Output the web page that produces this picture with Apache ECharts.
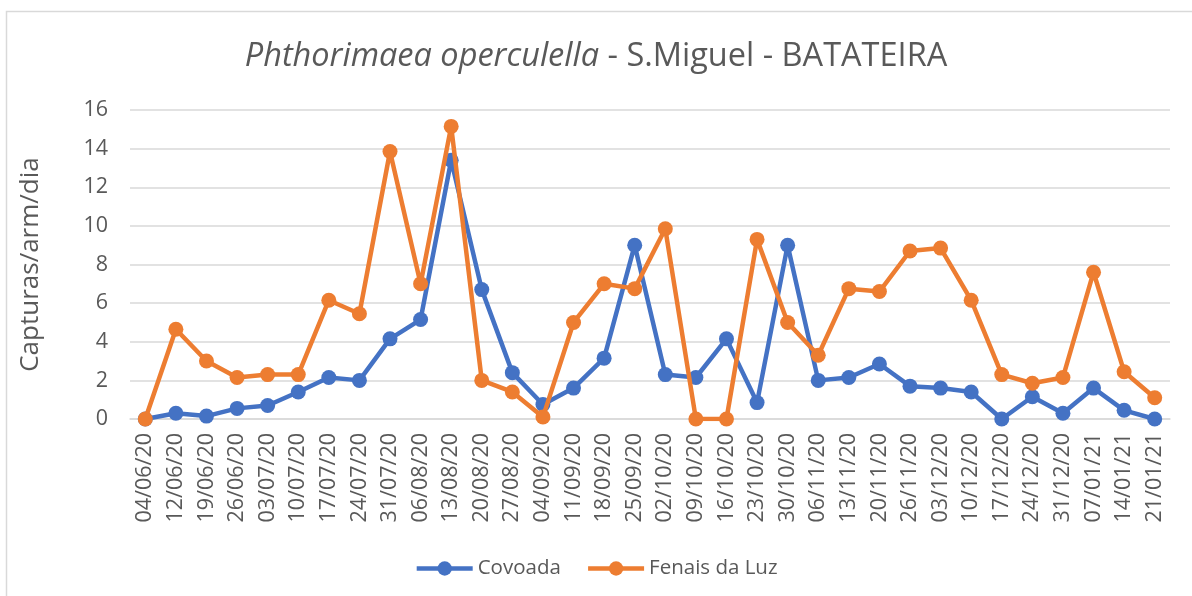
<!DOCTYPE html>
<html>
<head>
<meta charset="utf-8">
<script src="https://cdn.jsdelivr.net/npm/echarts@6/dist/echarts.min.js"></script>
<style>html,body{margin:0;padding:0;background:#fff}#c{width:1192px;height:596px}</style>
</head>
<body>
<div id="c"></div>
<script>
const categories = ["04/06/20","12/06/20","19/06/20","26/06/20","03/07/20","10/07/20","17/07/20","24/07/20","31/07/20","06/08/20","13/08/20","20/08/20","27/08/20","04/09/20","11/09/20","18/09/20","25/09/20","02/10/20","09/10/20","16/10/20","23/10/20","30/10/20","06/11/20","13/11/20","20/11/20","26/11/20","03/12/20","10/12/20","17/12/20","24/12/20","31/12/20","07/01/21","14/01/21","21/01/21"];
const covoada = [0,0.3,0.15,0.55,0.7,1.4,2.15,2.0,4.15,5.15,13.4,6.7,2.4,0.75,1.6,3.15,9.0,2.3,2.15,4.15,0.85,9.0,2.0,2.15,2.85,1.7,1.6,1.4,0.0,1.15,0.3,1.6,0.45,0.0];
const fenais = [0,4.65,3.0,2.15,2.3,2.3,6.15,5.45,13.85,7.0,15.15,2.0,1.4,0.1,5.0,7.0,6.75,9.85,0,0,9.3,5.0,3.3,6.75,6.6,8.7,8.85,6.15,2.3,1.85,2.15,7.6,2.45,1.1];
const seriesNames = ["Covoada","Fenais da Luz"];
const yTicks = [0,2,4,6,8,10,12,14,16];

const FONT = "'Open Sans', 'Noto Sans', sans-serif";
const TXT = '#595959';
const chart = echarts.init(document.getElementById('c'), null, {renderer:'canvas'});
const mkSeries = (name, data, color) => ({
  name, type:'line', data, symbol:'circle', symbolSize:15,
  lineStyle:{width:4.5, color}, itemStyle:{color},
  emphasis:{disabled:true}, animation:false, z:color==='#ED7D31'?3:2
});
chart.setOption({
  animation:false,
  backgroundColor:'#fff',
  graphic:[{type:'rect', shape:{x:6.5,y:11.5,width:1300,height:700}, style:{fill:'none', stroke:'#d9d9d9', lineWidth:1.5}, silent:true}],
  title:{
    text:'{i|Phthorimaea operculella}{n| - S.Miguel - BATATEIRA}',
    left:'center', top:35,
    textStyle:{fontWeight:'normal', rich:{
      i:{fontFamily:FONT, fontSize:32.5, fontStyle:'italic', fontWeight:'normal', color:TXT},
      n:{fontFamily:FONT, fontSize:32.5, fontWeight:'normal', color:TXT}
    }}
  },
  legend:{
    data:seriesNames, bottom:12, left:'center', itemWidth:56, itemHeight:18, itemGap:25,
    lineStyle:{width:4.5},
    textStyle:{fontFamily:FONT, fontSize:20.5, color:TXT}
  },
  grid:{left:130, right:22, top:110, bottom:177, containLabel:false},
  xAxis:{
    type:'category', data:categories, boundaryGap:true,
    axisLine:{show:true, lineStyle:{color:'#d9d9d9', width:1.5}},
    axisTick:{show:false},
    axisLabel:{rotate:90, interval:0, margin:14, fontFamily:FONT, fontSize:21.5, color:TXT}
  },
  yAxis:{
    type:'value', min:yTicks[0], max:yTicks[yTicks.length-1], interval:2,
    name:'Capturas/arm/dia', nameLocation:'middle', nameGap:86,
    nameTextStyle:{fontFamily:FONT, fontSize:26, color:TXT},
    axisLine:{show:false}, axisTick:{show:false},
    axisLabel:{fontFamily:FONT, fontSize:21.5, color:TXT, margin:22},
    splitLine:{lineStyle:{color:'#d9d9d9', width:1.5}}
  },
  series:[mkSeries(seriesNames[0], covoada, '#4472C4'), mkSeries(seriesNames[1], fenais, '#ED7D31')]
});
</script>
</body>
</html>
